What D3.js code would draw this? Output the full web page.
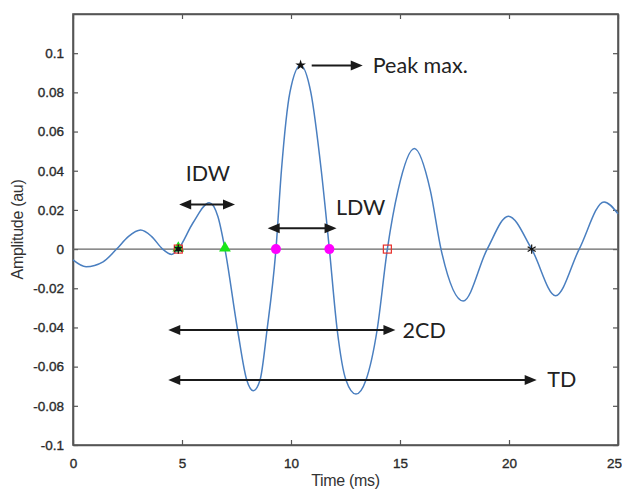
<!doctype html>
<html>
<head>
  <meta charset="utf8"/>
  <style>
    body { margin: 0; background: #fff; }
    .tick text { font: 13.5px "Liberation Sans", Arial, sans-serif; fill: #2a2a2a; stroke: #2a2a2a; stroke-width: 0.35px; }
    .axis path, .axis line { stroke: #555; }
    .note { font: 21.5px Lato, "Open Sans", sans-serif; fill: #222; }
    .title { font: 16px "Liberation Sans", Arial, sans-serif; fill: #333; letter-spacing: -0.3px; }
  </style>
</head>
<body>
  <svg width="622" height="492"></svg>
  <script src="https://d3js.org/d3.v7.min.js"></script>
  <script>

    // waveform (time in ms, amplitude in au)
    var curveTime = [0, 0.6, 1.38, 2.0, 2.55, 3.1, 3.6, 4.11, 4.53, 4.83, 5.5, 6.25, 6.65, 6.97,
                     7.55, 7.97, 8.27, 8.58, 8.9, 9.31, 9.56, 9.95, 10.44, 10.91, 11.39, 11.76,
                     12.12, 12.52, 12.98, 13.44, 13.95, 14.42, 14.91, 15.66, 16.39, 16.88,
                     17.9, 19.0, 19.97, 21.04, 22.14, 23.22, 24.36, 25.0];
    var curveAmp  = [-0.0055, -0.009, -0.0065, 0, 0.0065, 0.0097, 0.0065, 0, -0.0027, 0, 0.0133, 0.0236, 0.0165, 0,
                     -0.0413, -0.0668, -0.0723, -0.0668, -0.0413, 0, 0.04, 0.08, 0.0939, 0.08, 0.04, 0,
                     -0.0413, -0.0668, -0.074, -0.0668, -0.0413, 0, 0.03, 0.0513, 0.03, 0,
                     -0.0265, 0, 0.0168, 0, -0.0238, 0, 0.0241, 0.018];

    var xTicks = [0, 5, 10, 15, 20, 25];
    var xTickLabels = ['0', '5', '10', '15', '20', '25'];
    var yTicks = [-0.1, -0.08, -0.06, -0.04, -0.02, 0, 0.02, 0.04, 0.06, 0.08, 0.1];
    var yTickLabels = ['-0.1', '-0.08', '-0.06', '-0.04', '-0.02', '0', '0.02', '0.04', '0.06', '0.08', '0.1'];

    // detected points on the zero line
    var greenTimes = [4.83, 6.97];
    var magentaTimes = [9.31, 11.76];
    var redTimes = [4.83, 14.42];
    var starTimes = [4.83, 21.04];
    var peakPoint = [10.44, 0.0939];

    // annotation arrows
    var noteNames  = ['IDW', 'LDW', '2CD', 'TD', 'Peak max.'];
    var noteStart  = [4.87, 8.93, 4.37, 4.37, 10.95];
    var noteEnd    = [7.43, 12.09, 14.79, 21.27, 13.29];
    var noteLevel  = [0.0227, 0.0106, -0.0413, -0.0668, 0.0937];
    var noteBoth   = [true, true, true, true, false];
    var labelTime  = [6.19, 12.06, 15.12, 21.76, 13.75];
    var labelLevel = [0.0347, 0.0173, -0.0413, -0.0668, 0.0937];

    var svg = d3.select('svg'),
        margin = {top: 14, right: 4, bottom: 47, left: 73},
        width = +svg.attr('width') - margin.left - margin.right,
        height = +svg.attr('height') - margin.top - margin.bottom;

    var x = d3.scaleLinear().domain([0, 25]).range([margin.left, margin.left + width]);
    var y = d3.scaleLinear().domain([-0.1, 0.12]).range([margin.top + height, margin.top]);

    // axes with inward ticks on all four sides
    var gx = svg.append('g')
       .attr('class', 'axis')
       .attr('transform', 'translate(0,' + y(-0.1) + ')')
       .call(d3.axisBottom(x).tickValues(xTicks)
               .tickFormat(function(d, i) { return xTickLabels[i]; })
               .tickSizeInner(-5).tickSizeOuter(0).tickPadding(13));
    // last label sits on the window edge, nudge it inside
    gx.selectAll('.tick text').filter(function(d) { return d === 25; }).attr('dx', -4);

    svg.append('g')
       .attr('class', 'axis')
       .attr('transform', 'translate(' + x(0) + ',0)')
       .call(d3.axisLeft(y).tickValues(yTicks)
               .tickFormat(function(d, i) { return yTickLabels[i]; })
               .tickSizeInner(-5).tickSizeOuter(0).tickPadding(9));
    svg.append('g')
       .attr('class', 'axis')
       .attr('transform', 'translate(0,' + y(0.12) + ')')
       .call(d3.axisTop(x).tickValues(xTicks).tickFormat('').tickSizeInner(-5).tickSizeOuter(0));
    svg.append('g')
       .attr('class', 'axis')
       .attr('transform', 'translate(' + x(25) + ',0)')
       .call(d3.axisRight(y).tickValues(yTicks).tickFormat('').tickSizeInner(-5).tickSizeOuter(0));

    svg.selectAll('.axis path').attr('stroke-width', 1.6);
    svg.selectAll('.axis line').attr('stroke-width', 1.2);

    svg.append('rect')
       .attr('x', x(0)).attr('y', y(0.12))
       .attr('width', x(25) - x(0)).attr('height', y(-0.1) - y(0.12))
       .attr('fill', 'none').attr('stroke', '#555').attr('stroke-width', 1.6);

    // zero line
    svg.append('line')
       .attr('x1', x(0)).attr('x2', x(25))
       .attr('y1', y(0)).attr('y2', y(0))
       .attr('stroke', '#666').attr('stroke-width', 1.4);

    var line = d3.line()
                 .curve(d3.curveMonotoneX)
                 .x(function(d, i) { return x(curveTime[i]); })
                 .y(function(d) { return y(d); });

    svg.append('path')
       .attr('d', line(curveAmp))
       .attr('fill', 'none')
       .attr('stroke', '#4a7fc0')
       .attr('stroke-width', 1.5);

    // arrows
    var noteColor = '#1a1a1a';
    noteNames.forEach(function(name, i) {
      var y0 = y(noteLevel[i]), xa = x(noteStart[i]), xb = x(noteEnd[i]);
      var hl = 12, hw = 5;
      svg.append('line')
         .attr('x1', noteBoth[i] ? xa + hl - 1 : xa).attr('x2', xb - hl + 1)
         .attr('y1', y0).attr('y2', y0)
         .attr('stroke', noteColor).attr('stroke-width', 2);
      svg.append('path')
         .attr('d', 'M' + xb + ',' + y0 + 'L' + (xb - hl) + ',' + (y0 - hw) + 'L' + (xb - hl) + ',' + (y0 + hw) + 'Z')
         .attr('fill', noteColor);
      if (noteBoth[i]) {
        svg.append('path')
           .attr('d', 'M' + xa + ',' + y0 + 'L' + (xa + hl) + ',' + (y0 - hw) + 'L' + (xa + hl) + ',' + (y0 + hw) + 'Z')
           .attr('fill', noteColor);
      }
      var centred = name === 'IDW';
      var above = name === 'IDW' || name === 'LDW';
      svg.append('text')
         .attr('class', 'note')
         .attr('x', x(labelTime[i]))
         .attr('y', y(labelLevel[i]))
         .attr('dy', above ? 0 : '0.35em')
         .attr('text-anchor', centred ? 'middle' : 'start')
         .text(name);
    });

    // markers
    var sym = d3.symbol();
    svg.selectAll('.green').data(greenTimes).enter().append('path')
       .attr('transform', function(d) { return 'translate(' + x(d) + ',' + (y(0) - 1) + ')'; })
       .attr('d', sym.type(d3.symbolTriangle).size(60)())
       .attr('fill', '#19e619');
    svg.selectAll('.magenta').data(magentaTimes).enter().append('circle')
       .attr('cx', function(d) { return x(d); })
       .attr('cy', y(0))
       .attr('r', 5)
       .attr('fill', '#ff00ff');
    svg.selectAll('.red').data(redTimes).enter().append('rect')
       .attr('x', function(d) { return x(d) - 4; })
       .attr('y', y(0) - 4)
       .attr('width', 8).attr('height', 8)
       .attr('fill', 'none')
       .attr('stroke', '#e8302a').attr('stroke-width', 1.2);
    svg.append('circle')
       .attr('cx', x(starTimes[0])).attr('cy', y(0)).attr('r', 2.5)
       .attr('fill', '#111');
    svg.selectAll('.star').data(starTimes).enter().append('path')
       .attr('transform', function(d) { return 'translate(' + x(d) + ',' + y(0) + ')'; })
       .attr('d', sym.type(d3.symbolAsterisk).size(60)())
       .attr('fill', 'none')
       .attr('stroke', '#111').attr('stroke-width', 1.2);
    svg.append('path')
       .attr('transform', 'translate(' + x(peakPoint[0]) + ',' + y(peakPoint[1]) + ')')
       .attr('d', sym.type(d3.symbolStar).size(35)())
       .attr('fill', '#111');

    // axis titles
    svg.append('text')
       .attr('class', 'title')
       .attr('x', (x(0) + x(25)) / 2)
       .attr('y', 486)
       .attr('text-anchor', 'middle')
       .text('Time (ms)');
    svg.append('text')
       .attr('class', 'title')
       .attr('transform', 'translate(23,' + (y(-0.1) + y(0.12)) / 2 + ') rotate(-90)')
       .attr('text-anchor', 'middle')
       .text('Amplitude (au)');

  </script>
</body>
</html>
